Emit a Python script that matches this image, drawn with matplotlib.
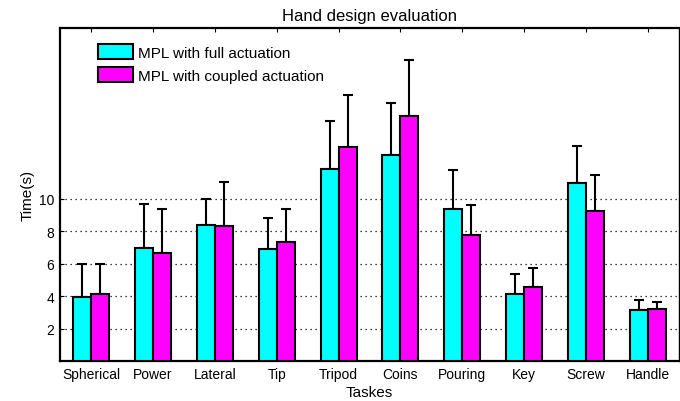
import matplotlib
matplotlib.use('Agg')
import matplotlib.pyplot as plt
import numpy as np

tasks = ['Spherical', 'Power', 'Lateral', 'Tip', 'Tripod',
         'Coins', 'Pouring', 'Key', 'Screw', 'Handle']

full_mean = [3.95, 6.98, 8.41, 6.92, 11.82, 12.69, 9.37, 4.12, 10.98, 3.14]
full_err = [2.01, 2.69, 1.57, 1.90, 2.94, 3.19, 2.39, 1.23, 2.25, 0.60]

coupled_mean = [4.12, 6.65, 8.31, 7.33, 13.18, 15.12, 7.76, 4.55, 9.27, 3.18]
coupled_err = [1.84, 2.72, 2.75, 2.06, 3.23, 3.45, 1.83, 1.16, 2.22, 0.45]

yticks = [2, 4, 6, 8, 10]

plt.rcParams['font.family'] = ['Liberation Sans', 'DejaVu Sans']

fig = plt.figure(figsize=(6.8, 4.02), dpi=100)
ax = fig.add_axes([60 / 680, 40 / 402, 619 / 680, 332.7 / 402])

x = np.arange(1, len(tasks) + 1)
w = 0.29

ax.bar(x - w / 2, full_mean, w, color='#00ffff', edgecolor='black',
       linewidth=1.5, zorder=3, label='MPL with full actuation')
ax.bar(x + w / 2, coupled_mean, w, color='#ff00ff', edgecolor='black',
       linewidth=1.5, zorder=3, label='MPL with coupled actuation')

zeros = np.zeros(len(tasks))
ax.errorbar(x - w / 2, full_mean, yerr=[zeros, full_err], fmt='none',
            ecolor='black', elinewidth=1.5, capsize=3.6, capthick=1.5, zorder=2)
ax.errorbar(x + w / 2, coupled_mean, yerr=[zeros, coupled_err], fmt='none',
            ecolor='black', elinewidth=1.5, capsize=3.6, capthick=1.5, zorder=2)

# dotted grid only at the labelled ticks
for yv in yticks:
    ax.axhline(yv, color='black', linestyle=(0, (1, 3)), linewidth=0.9, zorder=1)

ax.set_xlim(0.5, 10.5)
ax.set_ylim(0, 20.5)
ax.set_xticks(x)
ax.set_xticklabels(tasks, fontsize=10)
ax.set_yticks(yticks)
ax.set_yticklabels([str(v) for v in yticks], fontsize=10)
ax.tick_params(direction='in', length=3, width=0.8, top=True, right=False,
               pad=4)

for side in ['left', 'bottom', 'top']:
    ax.spines[side].set_linewidth(1.6)
ax.spines['right'].set_linewidth(1.0)

ax.set_title('Hand design evaluation', fontsize=12, pad=6)
ax.set_xlabel('Taskes', fontsize=11, labelpad=3)
ax.set_ylabel('Time(s)', fontsize=11, labelpad=3)

ax.legend(loc='upper left', bbox_to_anchor=(98 / 680, 1 - 45 / 402),
          bbox_transform=fig.transFigure, frameon=False, fontsize=11,
          borderpad=0, borderaxespad=0, handlelength=2.3, handleheight=1.1,
          handletextpad=0.35, labelspacing=0.5)

fig.savefig('out.png', dpi=100)
